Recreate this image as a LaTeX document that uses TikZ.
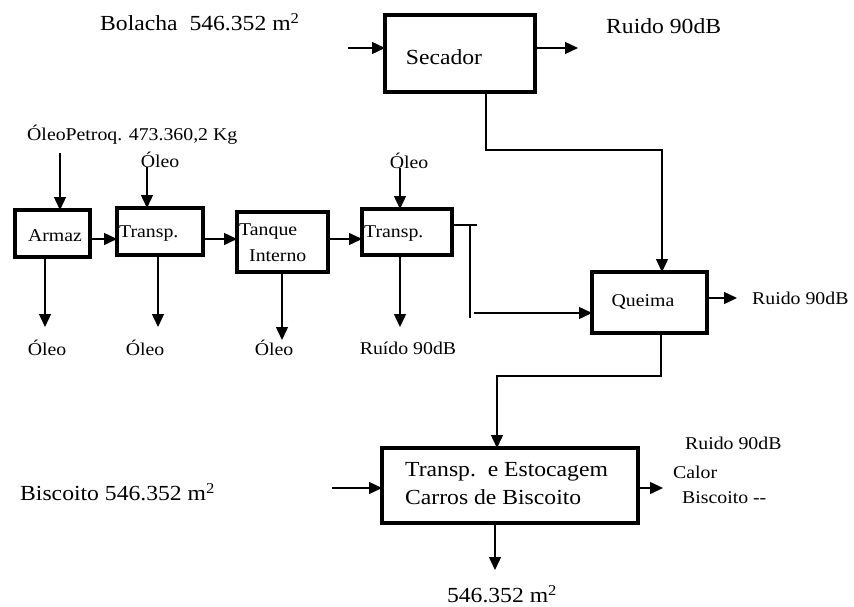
\documentclass[tikz,border=0pt]{standalone}
\usepackage{fontspec}
\setmainfont[FakeStretch=1.1]{Liberation Serif}
\usetikzlibrary{arrows.meta}
\begin{document}
\begin{tikzpicture}[x=1pt,y=-1pt,
  box/.style={draw, line width=3.5pt, inner sep=0pt, outer sep=0pt},
  flow/.style={line width=1.4pt, -{Triangle[length=13pt,width=12pt]}},
  plain/.style={line width=1.4pt},
  big/.style={font=\fontsize{21.5}{28}\selectfont, inner sep=0pt},
  small/.style={font=\fontsize{18}{20}\selectfont, inner sep=0pt}]
\useasboundingbox[fill=white] (0,0) rectangle (854,607);

% boxes
\node (sec) [box, minimum width=150pt, minimum height=77pt] at (460,53.5) {};
\node (arm) [box, minimum width=75pt, minimum height=47pt] at (52.5,233.5) {};
\node (tr1) [box, minimum width=86pt, minimum height=47pt] at (160,231.5) {};
\node (tan) [box, minimum width=91pt, minimum height=60pt] at (282.5,242) {};
\node (tr2) [box, minimum width=90pt, minimum height=46pt] at (407,232) {};
\node (que) [box, minimum width=115pt, minimum height=61pt] at (649.5,302.5) {};
\node (est) [box, minimum width=256pt, minimum height=75pt] at (510,485.5) {};

% box texts
\node (secT) [big] at (444,57) {Secador};
\node (armT) [small] at (55,236) {Armaz};
\node (tr1T) [small, anchor=west] at (119,234) {Transp.};
\node (tanT1) [small, anchor=west] at (239,232) {Tanque};
\node (tanT2) [small, anchor=west] at (249,256) {Interno};
\node (tr2T) [small, anchor=west] at (364,234) {Transp.};
\node (queT) [small] at (643,302) {Queima};
\node (estT) [big, anchor=west, align=left] at (405,484) {Transp.\ \ e Estocagem\\Carros de Biscoito};

% outside texts
\node (bol) [big, anchor=west] at (100,22) {Bolacha\ \ 546.352 m\textsuperscript{2}};
\node (r1) [big, anchor=west] at (606,26) {Ruido 90dB};
\node (pet) [small, anchor=west] at (27,135) {ÓleoPetroq. 473.360,2 Kg};
\node (o1) [small] at (160,160) {Óleo};
\node (o2) [small] at (409,161) {Óleo};
\node (b1) [small] at (47,348) {Óleo};
\node (b2) [small] at (145,348) {Óleo};
\node (b3) [small] at (274,348) {Óleo};
\node (b4) [small] at (408,348) {Ruído 90dB};
\node (r2) [small, anchor=west] at (752,298) {Ruido 90dB};
\node (bis) [big, anchor=west] at (20,492) {Biscoito 546.352 m\textsuperscript{2}};
\node (r3) [small, anchor=west] at (685,443) {Ruido 90dB};
\node (cal) [small, anchor=west] at (673,472) {Calor};
\node (bis2) [small, anchor=west] at (682,498) {Biscoito -{}-};
\node (out) [big] at (502,594) {546.352 m\textsuperscript{2}};

% free ends
\coordinate (secIn) at (348,48);
\coordinate (secOut) at (578,48);
\coordinate (petE) at (60,153);
\coordinate (o1E) at (147,167);
\coordinate (o2E) at (400,168);
\coordinate (b1E) at (45,327);
\coordinate (b2E) at (158,327);
\coordinate (b3E) at (282,340);
\coordinate (b4E) at (400,327);
\coordinate (queOut) at (737,298);
\coordinate (estIn) at (332,488);
\coordinate (estOut) at (663,488);
\coordinate (estDown) at (495,570);
\coordinate (t1) at (477,225);
\coordinate (t2) at (470,225);
\coordinate (t3) at (470,318);
\coordinate (t4) at (474,313);

% Secador connectors
\draw[flow] (secIn) -- (secIn -| sec.west);
\draw[flow] (secIn -| sec.east) -- (secOut);
\draw[flow] (486,92) -- (486,150) -- (662,150) -- (662,272);

% top inputs
\draw[flow] (petE) -- (60,210);
\draw[flow] (o1E) -- (147,208);
\draw[flow] (o2E) -- (400,209);

% row connectors
\draw[flow] (90,239) -- (117,239);
\draw[flow] (203,239) -- (237,239);
\draw[flow] (328,239) -- (362,239);

% outputs down
\draw[flow] (45,257) -- (b1E);
\draw[flow] (158,255) -- (b2E);
\draw[flow] (282,272) -- (b3E);
\draw[flow] (400,255) -- (b4E);

% Transp -> Queima
\draw[plain] (452,225) -- (t1);
\draw[plain] (t2) -- (t3);
\draw[flow] (t4) -- (592,313);

% Queima connectors
\draw[flow] (707,298) -- (queOut);
\draw[flow] (661,333) -- (661,376) -- (497,376) -- (497,448);

% Estocagem connectors
\draw[flow] (estIn) -- (382,488);
\draw[flow] (638,488) -- (estOut);
\draw[flow] (495,523) -- (estDown);
\end{tikzpicture}
\end{document}
